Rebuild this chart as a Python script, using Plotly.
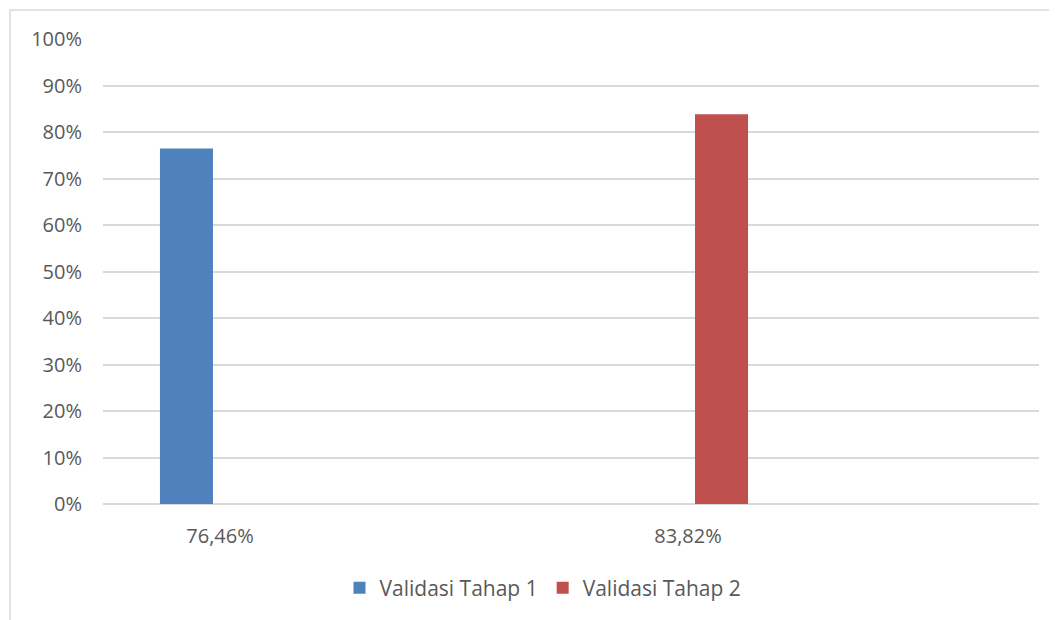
import plotly.graph_objects as go

categories = ["76,46%", "\u200b", "83,82%", "\u200b\u200b"]
tick_labels = ["76,46%", "83,82%"]
series_names = ["Validasi Tahap 1", "Validasi Tahap 2"]
tahap1 = [0.7646, None, None, None]
tahap2 = [None, None, 0.8382, None]
colors = ["#4f81bd", "#c0504d"]
y_ticks = [i / 10 for i in range(11)]

FONT = "Open Sans"
TXT = "#595959"

fig = go.Figure()
for name, vals, col in zip(series_names, [tahap1, tahap2], colors):
    fig.add_trace(go.Bar(x=categories, y=vals, name=name, marker=dict(color=col, line=dict(width=0))))

# page body has an 8px default margin; figure is sized to fill the rest
W, H = 1049, 612
L, R, T, B = 95, 18, 31, 116
pw, ph = W - L - R, H - T - B

fig.update_layout(
    width=W, height=H,
    margin=dict(l=L, r=R, t=T, b=B),
    paper_bgcolor="white", plot_bgcolor="white",
    barmode="group", bargap=0.427, bargroupgap=0.209,
    font=dict(family=FONT, size=20, color=TXT),
    showlegend=True,
    legend=dict(orientation="h", xref="container", yref="container",
                x=535 / W, xanchor="center", y=1 - 580 / H, yanchor="middle",
                font=dict(family=FONT, size=21, color=TXT), itemwidth=30),
    xaxis=dict(type="category", categoryorder="array", categoryarray=categories,
               tickvals=tick_labels,
               showgrid=False, showline=False, zeroline=False, ticks="",
               ticklabelstandoff=18, tickfont=dict(family=FONT, size=20, color=TXT)),
    yaxis=dict(range=[0, 1.0], tickvals=y_ticks, tickformat=".0%",
               showgrid=True, gridcolor="#d9d9d9", gridwidth=1.5,
               zeroline=True, zerolinecolor="#d9d9d9", zerolinewidth=1.5,
               showline=False, ticks="", ticklabelstandoff=20,
               tickfont=dict(family=FONT, size=20, color=TXT)),
    shapes=[dict(type="rect", xref="paper", yref="paper",
                 x0=(2 - L) / pw, x1=(W + 5 - L) / pw,
                 y0=-(H + 5 - T - ph) / ph, y1=1 + (T - 2) / ph,
                 line=dict(color="#d9d9d9", width=1.5), fillcolor="rgba(0,0,0,0)", layer="below")],
)

fig.write_html("out.html")
